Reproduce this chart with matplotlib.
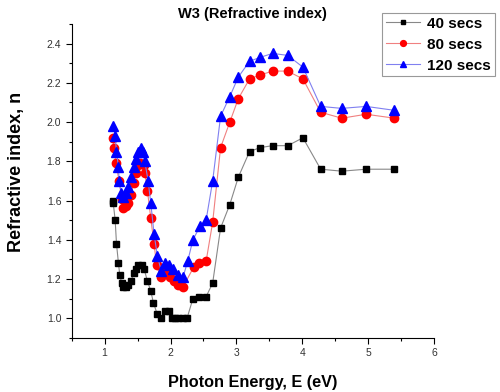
import matplotlib
matplotlib.use('Agg')
import matplotlib.pyplot as plt
from matplotlib.ticker import MultipleLocator

plt.rcParams['font.family'] = ['Liberation Sans', 'DejaVu Sans']

# 40 secs
e40 = [1.12, 1.13, 1.16, 1.18, 1.21, 1.23, 1.26, 1.28, 1.33, 1.36, 1.40, 1.44, 1.48, 1.51,
       1.56, 1.60, 1.65, 1.70, 1.74, 1.80, 1.85, 1.92, 1.97, 2.02, 2.07, 2.12, 2.19, 2.25,
       2.34, 2.43, 2.54, 2.64, 2.76, 2.90, 3.03, 3.20, 3.36, 3.55, 3.78, 4.01, 4.28, 4.60,
       4.97, 5.40]
n40 = [1.60, 1.59, 1.50, 1.38, 1.28, 1.22, 1.18, 1.16, 1.16, 1.17, 1.19, 1.23, 1.25, 1.27,
       1.27, 1.25, 1.19, 1.14, 1.08, 1.02, 1.00, 1.04, 1.04, 1.00, 1.00, 1.00, 1.00, 1.00,
       1.10, 1.11, 1.11, 1.18, 1.46, 1.58, 1.72, 1.85, 1.87, 1.88, 1.88, 1.92, 1.76, 1.75,
       1.76, 1.76]

# 80 secs
e80 = [1.12, 1.14, 1.17, 1.22, 1.26, 1.28, 1.32, 1.36, 1.40, 1.44, 1.47, 1.50, 1.54, 1.59,
       1.61, 1.65, 1.70, 1.75, 1.79, 1.85, 1.93, 1.99, 2.05, 2.12, 2.19, 2.35, 2.44, 2.54,
       2.64, 2.76, 2.90, 3.03, 3.20, 3.36, 3.55, 3.78, 4.01, 4.28, 4.60, 4.97, 5.40]
n80 = [1.92, 1.87, 1.79, 1.70, 1.61, 1.56, 1.57, 1.59, 1.63, 1.69, 1.74, 1.78, 1.79, 1.78,
       1.74, 1.65, 1.51, 1.38, 1.27, 1.21, 1.24, 1.21, 1.19, 1.17, 1.16, 1.26, 1.28, 1.29,
       1.49, 1.87, 2.00, 2.12, 2.22, 2.24, 2.26, 2.26, 2.22, 2.05, 2.02, 2.04, 2.02]

# 120 secs
e120 = [1.13, 1.16, 1.18, 1.21, 1.22, 1.25, 1.28, 1.33, 1.36, 1.40, 1.44, 1.47, 1.51, 1.55,
        1.58, 1.61, 1.66, 1.70, 1.75, 1.80, 1.86, 1.92, 1.98, 2.04, 2.12, 2.19, 2.26, 2.34,
        2.45, 2.54, 2.64, 2.76, 2.90, 3.03, 3.20, 3.36, 3.55, 3.78, 4.01, 4.28, 4.60, 4.97,
        5.40]
n120 = [1.98, 1.93, 1.85, 1.77, 1.70, 1.64, 1.62, 1.64, 1.67, 1.72, 1.77, 1.81, 1.85, 1.87,
        1.85, 1.80, 1.70, 1.59, 1.43, 1.32, 1.24, 1.28, 1.27, 1.25, 1.22, 1.21, 1.29, 1.40,
        1.47, 1.50, 1.70, 2.03, 2.13, 2.23, 2.31, 2.33, 2.35, 2.34, 2.28, 2.08, 2.07, 2.08,
        2.06]

fig = plt.figure(figsize=(5, 3.92), dpi=100)
ax = fig.add_axes([0.1434, 0.1378, 0.7246, 0.8010])

ax.plot(e40, n40, color='#888888', lw=0.8, marker='s', ms=5, mfc='black', mec='black',
        label='40 secs')
ax.plot(e80, n80, color='#f08080', lw=0.8, marker='o', ms=6, mfc='red', mec='red',
        label='80 secs')
ax.plot(e120, n120, color='#8080f0', lw=0.8, marker='^', ms=6.5, mfc='blue', mec='blue',
        label='120 secs')

ax.set_xlim(0.5, 6)
ax.set_ylim(0.9, 2.5)
ax.set_xticks([1, 2, 3, 4, 5, 6])
ax.set_yticks([1.0, 1.2, 1.4, 1.6, 1.8, 2.0, 2.2, 2.4])
ax.xaxis.set_minor_locator(MultipleLocator(0.5))
ax.yaxis.set_minor_locator(MultipleLocator(0.1))
ax.tick_params(which='major', direction='out', length=4, width=0.8, labelsize=7.5,
               labelcolor='#333333')
ax.tick_params(which='minor', direction='out', length=2.5, width=0.8)
ax.spines['top'].set_visible(False)
ax.spines['right'].set_visible(False)

ax.set_title('W3 (Refractive index)', fontsize=10.5, fontweight='bold', pad=4)
ax.set_xlabel('Photon Energy, E (eV)', fontsize=11.7, fontweight='bold', labelpad=12)
ax.set_ylabel('Refractive index, n', fontsize=13, fontweight='bold')
ax.yaxis.set_label_coords(-0.13, 0.53)

leg = ax.legend(loc='upper left', bbox_to_anchor=(0.857, 1.035), prop={'size': 11, 'weight': 'bold'},
                fancybox=False, edgecolor='#999999', framealpha=1, borderpad=0.25,
                handlelength=2.2, handletextpad=0.5, labelspacing=0.45, borderaxespad=0,
                markerscale=0.7)
leg.get_frame().set_linewidth(0.8)

plt.savefig('out.png', dpi=100)
